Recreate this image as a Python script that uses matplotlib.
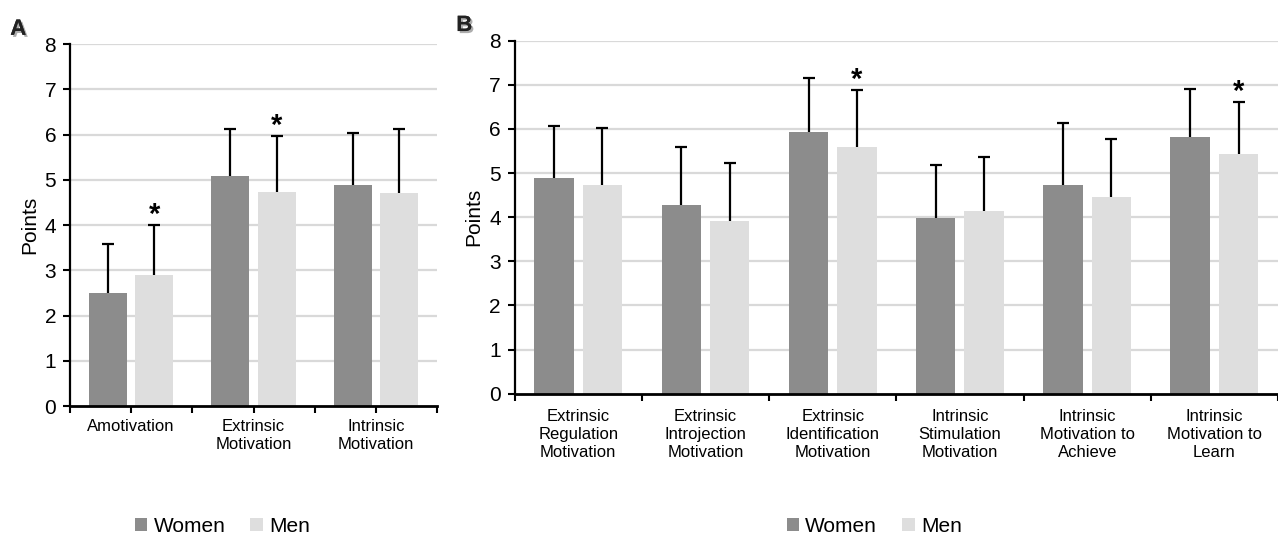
import numpy as np
import matplotlib
matplotlib.use('Agg')
import matplotlib.pyplot as plt
from matplotlib.patches import Patch
import matplotlib.patheffects as pe

plt.rcParams['font.family'] = ['Liberation Sans', 'DejaVu Sans']

# panel A data
cats_a = ['Amotivation', 'Extrinsic\nMotivation', 'Intrinsic\nMotivation']
women_a = [2.50, 5.08, 4.88]
women_a_sd = [1.09, 1.04, 1.16]
men_a = [2.89, 4.73, 4.70]
men_a_sd = [1.11, 1.24, 1.43]
sig_a = [True, True, False]

# panel B data
cats_b = ['Extrinsic\nRegulation\nMotivation', 'Extrinsic\nIntrojection\nMotivation',
          'Extrinsic\nIdentification\nMotivation', 'Intrinsic\nStimulation\nMotivation',
          'Intrinsic\nMotivation to\nAchieve', 'Intrinsic\nMotivation to\nLearn']
women_b = [4.88, 4.27, 5.92, 3.99, 4.73, 5.82]
women_b_sd = [1.19, 1.31, 1.23, 1.19, 1.41, 1.09]
men_b = [4.73, 3.91, 5.58, 4.15, 4.46, 5.43]
men_b_sd = [1.30, 1.31, 1.30, 1.22, 1.30, 1.18]
sig_b = [False, False, True, False, False, True]

c_women = '#8c8c8c'
c_men = '#dedede'
c_grid = '#d9d9d9'

fig = plt.figure(figsize=(12.78, 5.37), dpi=100)
ax_a = fig.add_axes([0.0548, 0.2439, 0.2872, 0.6741])
ax_b = fig.add_axes([0.4027, 0.2669, 0.5973, 0.6574])


def draw_panel(ax, cats, w, w_sd, m, m_sd, sig, center_ticks, xpad):
    x = np.arange(len(cats))
    width = 0.31
    off = 0.19
    ax.bar(x - off, w, width, color=c_women, zorder=2)
    ax.bar(x + off, m, width, color=c_men, zorder=2)
    for xs, vals, sd in [(x - off, w, w_sd), (x + off, m, m_sd)]:
        _, caps, _ = ax.errorbar(xs, vals, yerr=[np.zeros(len(vals)), sd], fmt='none',
                                 ecolor='black', elinewidth=1.6, capsize=4.5,
                                 capthick=1.6, zorder=3)
        # keep only the upper caps
        for cl in caps:
            if np.allclose(cl.get_ydata(), vals):
                cl.set_visible(False)
    for i in range(len(cats)):
        if sig[i]:
            ax.annotate('*', (x[i] + off, m[i] + m_sd[i]), xytext=(0, -3),
                        textcoords='offset points', ha='center', va='bottom',
                        fontsize=21, fontweight='bold')
    ax.set_xlim(-0.5, len(cats) - 0.5)
    ax.set_ylim(0, 8)
    ax.set_yticks(range(0, 9))
    ax.set_xticks(np.arange(len(cats) + 1) - 0.5)
    ax.set_xticklabels([])
    ax.set_xticks(x, minor=True)
    ax.set_xticklabels(cats, minor=True, fontsize=12, linespacing=1.25)
    ax.tick_params(axis='x', which='major', length=5, width=1.5, color='black')
    ax.tick_params(axis='x', which='minor', length=5 if center_ticks else 0,
                   width=1.5, pad=xpad)
    ax.tick_params(axis='y', length=5, width=1.5, labelsize=15, pad=5)
    for y in range(1, 9):
        ax.axhline(y, color=c_grid, lw=1.6, zorder=1)
    for s in ['top', 'right']:
        ax.spines[s].set_visible(False)
    ax.spines['left'].set_linewidth(1.6)
    ax.spines['bottom'].set_linewidth(2.0)
    ax.spines['bottom'].set_zorder(4)
    ax.set_ylabel('Points', fontsize=15, labelpad=4)


draw_panel(ax_a, cats_a, women_a, women_a_sd, men_a, men_a_sd, sig_a, True, 4)
draw_panel(ax_b, cats_b, women_b, women_b_sd, men_b, men_b_sd, sig_b, False, 11)

shadow = [pe.withSimplePatchShadow(offset=(1.5, -1.5), shadow_rgbFace='#999999', alpha=0.8), pe.Normal()]
fig.text(0.008, 0.965, 'A', fontsize=16, fontweight='bold', va='top', color='#222222', path_effects=shadow)
fig.text(0.357, 0.972, 'B', fontsize=16, fontweight='bold', va='top', color='#222222', path_effects=shadow)

handles = [Patch(facecolor=c_women), Patch(facecolor=c_men)]
for cx in [0.174, 0.684]:
    fig.legend(handles, ['Women', 'Men'], loc='center', bbox_to_anchor=(cx, 0.02),
               ncol=2, frameon=False, fontsize=15, handlelength=0.6, handleheight=0.6,
               handletextpad=0.3, columnspacing=1.2, borderpad=0)

fig.savefig('out.png', dpi=100)
